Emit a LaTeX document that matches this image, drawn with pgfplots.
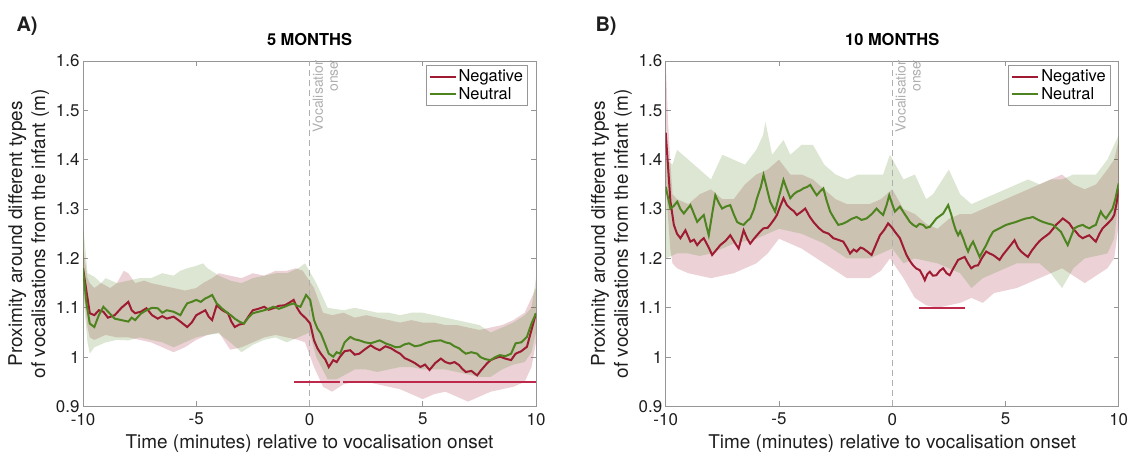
\documentclass[border=0pt]{standalone}
\usepackage{pgfplots}
\pgfplotsset{compat=1.18}
\usepgfplotslibrary{fillbetween}
\usepackage{fontspec}
\setmainfont{TeX Gyre Heros}
\definecolor{negc}{RGB}{158,27,50}
\definecolor{neuc}{RGB}{78,132,32}
\definecolor{sigc}{RGB}{190,40,75}
\definecolor{axc}{RGB}{150,150,150}
\definecolor{txc}{RGB}{30,30,30}
\definecolor{vtx}{RGB}{175,175,175}

\pgfplotsset{
 myaxis/.style={
  scale only axis, width=453bp, height=345.5bp,
  xmin=-10,xmax=10,ymin=0.9,ymax=1.6,
  xtick={-10,-5,0,5,10}, ytick={0.9,1,1.1,1.2,1.3,1.4,1.5,1.6},
  tick align=inside, major tick length=5bp,
  axis line style={axc, line width=0.7bp},
  every tick/.style={axc, line width=0.7bp},
  /pgf/number format/assume math mode=true,
  tick label style={font=\fontsize{17}{20}\selectfont, text=txc},
  xticklabel style={yshift=-3bp},
  label style={font=\fontsize{19}{23}\selectfont, text=txc},
  xlabel={Time (minutes) relative to vocalisation onset},
  xlabel style={yshift=-3bp},
  ylabel={Proximity around different types\\of vocalisations from the infant (m)},
  ylabel style={align=center},
  title style={font=\fontsize{16.5}{19}\bfseries\selectfont, yshift=6bp},
  legend style={at={(0.982,0.988)}, anchor=north east, draw=axc, line width=0.7bp,
    font=\fontsize{16.5}{19}\selectfont, inner sep=2.5bp, row sep=0bp, cells={anchor=west}},
  legend image code/.code={\draw[#1, line width=2bp] (0bp,0bp) -- (26bp,0bp);},
 },
 bnd/.style={draw=none, forget plot},
}

\begin{document}
\begin{tikzpicture}

%================ PANEL A =================
\begin{axis}[myaxis, at={(83bp,51.5bp)}, anchor=south west, title={5 MONTHS}]
% red band
\addplot[bnd, name path=aru] coordinates {(-10,1.22)(-9.8,1.16)(-9.7,1.15)(-9.5,1.14)(-9.2,1.15)(-8.8,1.14)(-8.5,1.15)(-8.2,1.175)(-8,1.17)(-7.7,1.15)(-7.3,1.155)(-7,1.15)(-6.5,1.145)(-6,1.14)(-5.5,1.135)(-5,1.14)(-4.7,1.15)(-4.3,1.16)(-4,1.17)(-3.5,1.165)(-3,1.16)(-2.5,1.17)(-2,1.165)(-1.5,1.175)(-1,1.175)(-0.6,1.18)(-0.3,1.175)(0.2,1.14)(0.6,1.09)(1,1.085)(1.5,1.09)(2,1.08)(2.5,1.085)(3,1.08)(3.5,1.075)(4,1.07)(4.5,1.075)(5,1.07)(5.5,1.07)(6,1.065)(6.5,1.065)(7,1.06)(7.5,1.055)(8,1.06)(8.5,1.065)(9,1.075)(9.5,1.09)(9.8,1.12)(10,1.14)};
\addplot[bnd, name path=arl] coordinates {(-10,1.14)(-9.8,1.06)(-9.7,1.04)(-9.5,1.035)(-9,1.045)(-8.5,1.04)(-8,1.04)(-7.5,1.035)(-7,1.03)(-6.5,1.02)(-6,1.01)(-5.5,1.02)(-5,1.035)(-4.5,1.045)(-4,1.05)(-3.5,1.015)(-3,1.02)(-2.5,1.03)(-2,1.04)(-1.5,1.045)(-1,1.04)(-0.5,1.035)(-0.2,1.03)(0.2,0.98)(0.6,0.94)(1,0.93)(1.5,0.945)(2,0.95)(2.5,0.95)(3,0.945)(3.5,0.94)(4,0.935)(4.5,0.925)(5,0.915)(5.5,0.925)(6,0.93)(6.5,0.92)(7,0.91)(7.5,0.92)(8,0.93)(8.5,0.935)(9,0.94)(9.5,0.95)(9.8,0.98)(10,1.03)};
\addplot[fill=negc, fill opacity=0.2, draw=none, forget plot] fill between[of=aru and arl];
% green band
\addplot[bnd, name path=agu] coordinates {(-10,1.27)(-9.8,1.17)(-9.5,1.163)(-9.2,1.15)(-9,1.16)(-8.5,1.15)(-8,1.155)(-7.5,1.16)(-7,1.16)(-6.5,1.17)(-6,1.165)(-5.7,1.175)(-5.4,1.18)(-5,1.185)(-4.7,1.19)(-4.5,1.18)(-4,1.165)(-3.5,1.155)(-3,1.15)(-2.5,1.16)(-2,1.165)(-1.5,1.17)(-1,1.17)(-0.5,1.18)(-0.2,1.19)(0.3,1.15)(0.8,1.10)(1.5,1.095)(2,1.10)(2.5,1.095)(3,1.09)(3.5,1.09)(4,1.085)(4.5,1.09)(5,1.09)(5.5,1.085)(6,1.08)(6.5,1.075)(7,1.07)(7.5,1.065)(8,1.05)(8.5,1.06)(9,1.07)(9.5,1.085)(9.8,1.10)(10,1.16)};
\addplot[bnd, name path=agl] coordinates {(-10,1.13)(-9.8,1.03)(-9.7,1.007)(-9.5,1.02)(-9,1.03)(-8.5,1.035)(-8,1.034)(-7.5,1.04)(-7,1.035)(-6.5,1.03)(-6,1.02)(-5.5,1.03)(-5,1.04)(-4.5,1.045)(-4,1.048)(-3.5,1.03)(-3,1.01)(-2.5,1.025)(-2,1.035)(-1.5,1.04)(-1,1.03)(-0.5,1.04)(0,1.05)(0.3,1.0)(0.8,0.955)(1.2,0.955)(1.6,0.965)(2,0.975)(2.5,0.975)(3,0.97)(3.5,0.975)(4,0.98)(4.5,0.98)(5,0.975)(5.5,0.975)(6,0.975)(6.5,0.97)(7,0.965)(7.5,0.96)(8,0.96)(8.5,0.975)(9,0.985)(9.5,0.99)(9.8,1.01)(10,1.05)};
\addplot[fill=neuc, fill opacity=0.2, draw=none, forget plot] fill between[of=agu and agl];
% onset line
\addplot[forget plot, vtx, dashed, dash pattern=on 6bp off 4bp, line width=0.7bp] coordinates {(0,0.9)(0,1.6)};
% means
\addplot[negc, line width=2bp] coordinates {(-10,1.180)(-9.7,1.089)(-9.5,1.085)(-9.3,1.095)(-9.1,1.092)(-8.9,1.080)(-8.6,1.085)(-8.3,1.100)(-8.0,1.112)(-7.85,1.095)(-7.7,1.089)(-7.45,1.092)(-7.2,1.099)(-6.95,1.085)(-6.7,1.078)(-6.5,1.083)(-6.3,1.078)(-6.0,1.082)(-5.7,1.072)(-5.4,1.061)(-5.2,1.070)(-5.0,1.085)(-4.8,1.090)(-4.6,1.095)(-4.45,1.082)(-4.3,1.075)(-4.1,1.105)(-3.85,1.095)(-3.6,1.089)(-3.45,1.072)(-3.3,1.061)(-3.1,1.066)(-2.9,1.068)(-2.7,1.082)(-2.5,1.095)(-2.25,1.098)(-2.0,1.102)(-1.8,1.096)(-1.6,1.099)(-1.35,1.104)(-1.1,1.105)(-0.9,1.110)(-0.7,1.116)(-0.55,1.100)(-0.4,1.089)(-0.15,1.078)(0.03,1.068)(0.2,1.034)(0.35,1.018)(0.5,1.007)(0.7,0.995)(0.85,0.980)(1.05,0.994)(1.2,0.990)(1.35,1.001)(1.55,1.012)(1.8,1.014)(2.0,1.005)(2.2,1.007)(2.45,1.016)(2.7,1.024)(2.9,1.018)(3.1,1.014)(3.35,1.022)(3.6,1.018)(3.8,1.012)(4.0,1.007)(4.2,0.998)(4.4,0.994)(4.65,0.988)(4.9,0.980)(5.1,0.985)(5.3,0.974)(5.55,0.988)(5.8,0.997)(6.0,0.990)(6.2,0.987)(6.4,0.990)(6.6,0.984)(6.75,0.976)(6.9,0.970)(7.15,0.972)(7.4,0.963)(7.55,0.972)(7.7,0.980)(7.85,0.988)(8.0,0.994)(8.2,0.998)(8.4,1.001)(8.65,0.997)(8.9,0.994)(9.1,1.007)(9.35,1.012)(9.6,1.021)(9.8,1.055)(10,1.089)};
\addlegendentry{Negative}
\addplot[neuc, line width=2bp] coordinates {(-10,1.180)(-9.85,1.110)(-9.7,1.068)(-9.5,1.061)(-9.3,1.085)(-9.1,1.102)(-8.85,1.090)(-8.6,1.078)(-8.3,1.075)(-8.0,1.072)(-7.85,1.080)(-7.7,1.075)(-7.45,1.088)(-7.2,1.095)(-6.95,1.100)(-6.7,1.099)(-6.5,1.090)(-6.3,1.095)(-6.0,1.092)(-5.7,1.085)(-5.55,1.098)(-5.4,1.109)(-5.2,1.112)(-5.0,1.116)(-4.8,1.112)(-4.6,1.119)(-4.45,1.122)(-4.3,1.126)(-4.1,1.109)(-3.85,1.098)(-3.6,1.089)(-3.45,1.084)(-3.3,1.078)(-3.1,1.072)(-2.9,1.068)(-2.7,1.080)(-2.5,1.089)(-2.25,1.092)(-2.0,1.095)(-1.8,1.098)(-1.6,1.102)(-1.35,1.098)(-1.1,1.102)(-0.9,1.106)(-0.7,1.109)(-0.55,1.104)(-0.4,1.102)(-0.15,1.126)(0.03,1.116)(0.2,1.075)(0.35,1.058)(0.5,1.048)(0.7,1.025)(0.85,1.007)(1.05,1.001)(1.2,1.010)(1.35,1.007)(1.55,1.030)(1.8,1.041)(2.0,1.036)(2.2,1.034)(2.45,1.030)(2.7,1.028)(2.9,1.031)(3.1,1.034)(3.35,1.028)(3.6,1.024)(3.8,1.020)(4.0,1.021)(4.2,1.026)(4.4,1.028)(4.65,1.022)(4.9,1.024)(5.1,1.028)(5.3,1.031)(5.55,1.033)(5.8,1.034)(6.0,1.030)(6.2,1.028)(6.4,1.022)(6.6,1.018)(6.75,1.012)(6.9,1.007)(7.15,1.010)(7.4,1.007)(7.55,1.000)(7.7,0.997)(7.85,0.995)(8.0,0.994)(8.2,1.000)(8.4,1.004)(8.65,1.002)(8.9,1.007)(9.1,1.028)(9.35,1.030)(9.6,1.041)(9.8,1.068)(10,1.089)};
\addlegendentry{Neutral}
% significance
\addplot[forget plot, sigc, line width=2bp] coordinates {(-0.68,0.95)(1.35,0.95)};
\addplot[forget plot, sigc, line width=2bp] coordinates {(1.5,0.95)(10,0.95)};
\node[rotate=90, anchor=north east, align=right, text=vtx, inner sep=0pt, xshift=3.5bp, yshift=-3bp,
  font=\fontsize{14}{15}\selectfont] at (axis cs:0,1.6) {Vocalisation\\onset};
\end{axis}

%================ PANEL B =================
\begin{axis}[myaxis, at={(665.7bp,51.5bp)}, anchor=south west, title={10 MONTHS}]
\addplot[bnd, name path=bru] coordinates {(-10,1.60)(-9.9,1.48)(-9.8,1.40)(-9.7,1.33)(-9.5,1.32)(-9,1.31)(-8.5,1.33)(-8,1.34)(-7.5,1.32)(-7,1.32)(-6.5,1.35)(-6,1.37)(-5.5,1.38)(-5,1.40)(-4.5,1.37)(-4,1.37)(-3.5,1.36)(-3,1.34)(-2.5,1.32)(-2,1.31)(-1.5,1.31)(-1,1.31)(-0.5,1.32)(0,1.34)(0.5,1.30)(1,1.29)(1.5,1.27)(2,1.26)(2.5,1.28)(3,1.29)(3.5,1.29)(4,1.30)(4.5,1.31)(5,1.32)(5.5,1.33)(6,1.34)(6.5,1.35)(7,1.36)(7.5,1.37)(8,1.35)(8.5,1.34)(9,1.35)(9.5,1.38)(9.8,1.40)(10,1.44)};
\addplot[bnd, name path=brl] coordinates {(-10,1.35)(-9.8,1.22)(-9.7,1.19)(-9.5,1.18)(-9,1.17)(-8.5,1.165)(-8,1.16)(-7.5,1.165)(-7,1.17)(-6.5,1.18)(-6,1.19)(-5.5,1.21)(-5,1.24)(-4.5,1.23)(-4,1.22)(-3.5,1.205)(-3,1.19)(-2.5,1.175)(-2,1.16)(-1.5,1.16)(-1,1.16)(-0.5,1.175)(-0.1,1.20)(0.5,1.16)(1,1.12)(1.5,1.105)(2,1.10)(2.5,1.105)(3,1.11)(3.5,1.12)(4,1.11)(4.5,1.13)(5,1.135)(5.5,1.14)(6,1.15)(6.5,1.16)(7,1.17)(7.5,1.18)(8,1.165)(8.5,1.15)(9,1.165)(9.5,1.18)(9.8,1.20)(10,1.27)};
\addplot[fill=negc, fill opacity=0.2, draw=none, forget plot] fill between[of=bru and brl];
\addplot[bnd, name path=bgu] coordinates {(-10,1.40)(-9.7,1.39)(-9.5,1.42)(-9,1.40)(-8.5,1.38)(-8,1.36)(-7.5,1.41)(-7,1.40)(-6.5,1.39)(-6,1.42)(-5.7,1.45)(-5.6,1.477)(-5.3,1.41)(-4.8,1.44)(-4.5,1.41)(-4,1.43)(-3.5,1.43)(-3,1.39)(-2.5,1.37)(-2,1.36)(-1.5,1.37)(-1,1.37)(-0.4,1.37)(-0.1,1.41)(0.5,1.36)(1,1.37)(1.5,1.32)(1.8,1.33)(2.5,1.38)(3,1.33)(3.5,1.31)(4,1.32)(4.5,1.33)(5,1.34)(5.5,1.35)(6,1.36)(6.5,1.35)(7,1.36)(7.5,1.36)(8,1.37)(8.5,1.37)(9,1.37)(9.5,1.40)(10,1.45)};
\addplot[bnd, name path=bgl] coordinates {(-10,1.20)(-9.5,1.21)(-9,1.21)(-8.5,1.205)(-8,1.21)(-7.5,1.22)(-7,1.23)(-6.5,1.235)(-6,1.24)(-5.5,1.25)(-5,1.26)(-4.5,1.255)(-4,1.25)(-3.5,1.24)(-3,1.23)(-2.5,1.215)(-2,1.20)(-1.5,1.20)(-1,1.20)(-0.5,1.21)(0,1.22)(0.5,1.19)(1,1.20)(1.5,1.195)(2,1.19)(2.5,1.18)(3,1.17)(3.5,1.14)(4,1.16)(4.5,1.17)(5,1.18)(5.5,1.19)(6,1.19)(6.5,1.19)(7,1.17)(7.5,1.14)(8,1.18)(8.5,1.20)(9,1.205)(9.5,1.21)(9.8,1.24)(10,1.32)};
\addplot[fill=neuc, fill opacity=0.2, draw=none, forget plot] fill between[of=bgu and bgl];
\addplot[forget plot, vtx, dashed, dash pattern=on 6bp off 4bp, line width=0.7bp] coordinates {(0,0.9)(0,1.6)};
\addplot[negc, line width=2bp] coordinates {(-10,1.455)(-9.79,1.315)(-9.64,1.268)(-9.5,1.250)(-9.35,1.241)(-9.13,1.257)(-8.91,1.234)(-8.75,1.238)(-8.61,1.227)(-8.45,1.236)(-8.32,1.241)(-8.1,1.222)(-7.95,1.207)(-7.75,1.218)(-7.59,1.227)(-7.35,1.236)(-7.15,1.247)(-6.95,1.232)(-6.78,1.220)(-6.56,1.257)(-6.4,1.240)(-6.27,1.230)(-6.1,1.240)(-5.97,1.247)(-5.8,1.256)(-5.68,1.261)(-5.5,1.262)(-5.39,1.268)(-5.2,1.280)(-5.09,1.288)(-4.95,1.305)(-4.80,1.322)(-4.65,1.308)(-4.50,1.301)(-4.35,1.296)(-4.21,1.288)(-4.0,1.295)(-3.84,1.301)(-3.65,1.285)(-3.48,1.274)(-3.25,1.262)(-3.04,1.254)(-2.8,1.250)(-2.60,1.241)(-2.4,1.238)(-2.16,1.234)(-2.0,1.222)(-1.86,1.210)(-1.7,1.218)(-1.57,1.214)(-1.4,1.222)(-1.28,1.220)(-1.1,1.214)(-0.91,1.207)(-0.7,1.230)(-0.54,1.247)(-0.35,1.258)(-0.18,1.271)(0.0,1.262)(0.12,1.254)(0.34,1.241)(0.5,1.222)(0.63,1.207)(0.78,1.195)(0.92,1.186)(1.05,1.180)(1.22,1.176)(1.35,1.165)(1.44,1.156)(1.55,1.168)(1.66,1.173)(1.8,1.165)(1.95,1.166)(2.1,1.175)(2.25,1.180)(2.4,1.170)(2.54,1.166)(2.7,1.180)(2.91,1.197)(3.05,1.200)(3.20,1.203)(3.35,1.190)(3.49,1.180)(3.65,1.185)(3.79,1.186)(3.95,1.200)(4.15,1.214)(4.3,1.210)(4.45,1.207)(4.6,1.202)(4.74,1.197)(4.9,1.208)(5.11,1.220)(5.25,1.228)(5.40,1.237)(5.55,1.222)(5.69,1.214)(5.85,1.208)(5.99,1.203)(6.15,1.215)(6.35,1.227)(6.5,1.235)(6.65,1.241)(6.8,1.246)(6.94,1.251)(7.1,1.260)(7.23,1.268)(7.4,1.275)(7.53,1.281)(7.68,1.276)(7.82,1.271)(7.95,1.262)(8.11,1.254)(8.25,1.246)(8.41,1.241)(8.55,1.244)(8.70,1.247)(8.85,1.240)(8.99,1.234)(9.15,1.250)(9.29,1.261)(9.45,1.268)(9.58,1.274)(9.7,1.280)(9.80,1.288)(9.9,1.310)(10,1.342)};
\addlegendentry{Negative}
\addplot[neuc, line width=2bp] coordinates {(-10,1.345)(-9.79,1.301)(-9.65,1.306)(-9.49,1.315)(-9.35,1.300)(-9.20,1.291)(-9.05,1.300)(-8.91,1.308)(-8.75,1.290)(-8.61,1.274)(-8.45,1.282)(-8.32,1.288)(-8.20,1.265)(-8.10,1.247)(-7.95,1.290)(-7.81,1.328)(-7.65,1.312)(-7.51,1.301)(-7.35,1.305)(-7.15,1.308)(-7.0,1.290)(-6.85,1.274)(-6.7,1.270)(-6.56,1.268)(-6.4,1.276)(-6.27,1.281)(-6.1,1.300)(-5.97,1.322)(-5.8,1.345)(-5.68,1.369)(-5.55,1.345)(-5.39,1.315)(-5.17,1.295)(-5.0,1.325)(-4.80,1.359)(-4.65,1.340)(-4.50,1.322)(-4.35,1.330)(-4.21,1.335)(-4.05,1.338)(-3.92,1.342)(-3.75,1.345)(-3.62,1.349)(-3.45,1.336)(-3.33,1.328)(-3.2,1.335)(-3.04,1.342)(-2.9,1.318)(-2.74,1.295)(-2.55,1.280)(-2.38,1.268)(-2.2,1.270)(-2.01,1.274)(-1.8,1.280)(-1.57,1.284)(-1.35,1.278)(-1.13,1.281)(-0.9,1.290)(-0.69,1.301)(-0.55,1.294)(-0.40,1.288)(-0.25,1.308)(-0.13,1.328)(0.0,1.310)(0.12,1.295)(0.34,1.305)(0.55,1.290)(0.78,1.274)(0.92,1.268)(1.07,1.264)(1.2,1.270)(1.36,1.268)(1.5,1.262)(1.66,1.264)(1.8,1.272)(1.95,1.281)(2.1,1.286)(2.25,1.291)(2.47,1.308)(2.6,1.290)(2.69,1.274)(2.80,1.258)(2.91,1.247)(3.0,1.255)(3.13,1.241)(3.25,1.225)(3.35,1.214)(3.45,1.225)(3.57,1.234)(3.7,1.220)(3.86,1.203)(4.0,1.215)(4.15,1.227)(4.3,1.242)(4.45,1.254)(4.6,1.258)(4.74,1.261)(4.9,1.265)(5.03,1.268)(5.25,1.271)(5.47,1.274)(5.7,1.278)(5.91,1.281)(6.05,1.282)(6.21,1.284)(6.45,1.278)(6.65,1.274)(6.85,1.271)(7.09,1.268)(7.25,1.262)(7.45,1.254)(7.6,1.240)(7.75,1.227)(7.9,1.245)(8.04,1.261)(8.2,1.265)(8.41,1.268)(8.55,1.264)(8.70,1.261)(8.85,1.265)(8.99,1.268)(9.1,1.282)(9.21,1.295)(9.3,1.288)(9.44,1.281)(9.6,1.292)(9.73,1.301)(9.85,1.320)(10,1.352)};
\addlegendentry{Neutral}
\addplot[forget plot, sigc, line width=2bp] coordinates {(1.19,1.10)(3.2,1.10)};
\node[rotate=90, anchor=north east, align=right, text=vtx, inner sep=0pt, xshift=3.5bp, yshift=-3bp,
  font=\fontsize{14}{15}\selectfont] at (axis cs:0,1.6) {Vocalisation\\onset};
\end{axis}

\node[anchor=west, font=\fontsize{20}{24}\bfseries\selectfont, text=txc] at (13bp,432bp) {A)};
\node[anchor=west, font=\fontsize{20}{24}\bfseries\selectfont, text=txc] at (592bp,432bp) {B)};
\pgfresetboundingbox
\useasboundingbox (0,0) rectangle (1131bp,458bp);
\end{tikzpicture}
\end{document}
